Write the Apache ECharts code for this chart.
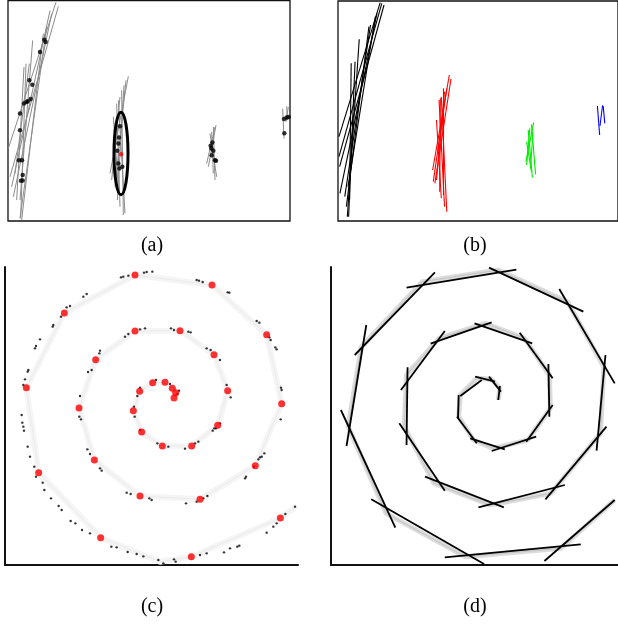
<!DOCTYPE html>
<html><head><meta charset="utf-8">
<script src="https://cdn.jsdelivr.net/npm/echarts@6/dist/echarts.min.js"></script>
<style>html,body{margin:0;padding:0;background:#fff}#c{width:618px;height:628px}</style>
</head><body><div id="c"></div>
<script>
// ---------- Panel (a): gray line fits + black samples (panel units) ----------
const aLeftSegs = [[168,5,25,445],[175,18,30,530],[155,40,40,590],[150,30,35,560],[140,80,60,655],
  [130,100,65,660],[98,120,60,600],[78,190,62,655],[72,200,50,600],[88,190,45,520]];
const aMidSegs = [[385,228,330,520],[378,240,345,560],[365,270,370,645],[355,300,375,640],
  [350,310,360,620],[340,350,355,560],[372,255,352,600],[360,290,335,540]];
const aSmallSegs = [[648,375,625,500],[640,380,645,540],[630,400,650,530],[620,490,645,380],[635,395,640,520]];
const aEdgeSegs = [[848,325,852,415],[865,320,858,365],[860,318,862,360]];
const aDots = [[133,118],[137,125],[120,155],[88,240],[97,253],[72,310],[80,305],[92,296],[83,303],
  [60,340],[60,390],[57,480],[66,480],[68,525],[63,542],[68,541],
  [360,378],[357,412],[355,430],[352,452],[355,490],[358,505],[367,500],
  [637,427],[632,437],[634,445],[640,452],[635,465],[645,480],[648,482],
  [852,356],[860,352],[866,350],[853,399]];
const aRedDot = [[363,462]];
const aEllipse = [[363,460,21,124]]; // centre x, centre y, half-width, half-height

// ---------- Panel (b): coloured clusters ----------
const bBlackSegs = [[155,8,27,410],[167,15,29,500],[160,10,27,470],[145,40,30,580],[125,75,45,590],
  [120,80,50,620],[90,118,53,650],[77,185,57,650],[65,190,60,600],[140,50,55,560]];
const bRedSegs = [[370,225,318,510],[375,237,325,550],[362,265,320,545],[350,265,350,585],[345,290,362,635],
  [338,300,355,620],[330,360,345,595],[355,275,330,540],[342,295,340,575]];
const bGreenSegs = [[632,367,608,485],[625,373,638,523],[615,390,628,533],[620,385,610,495],
  [610,425,625,515],[630,395,622,505]];
const bBlueSegs = [[830,318,837,405],[846,316,838,378],[848,318,853,370]];

// ---------- Panel (c): spiral samples ----------
const cRed = [[522,414],[527,398],[517,385],[495,367],[458,368],[419,394],[400,452],[425,516],[487,558],
  [575,558],[653,496],[683,392],[642,284],[540,212],[405,213],[287,299],[237,444],[283,600],[420,708],
  [600,718],[766,617],[845,431],[800,224],[636,75],[405,45],[193,159],[79,383],[116,638],[302,833],
  [574,890],[841,774]];
const cTrace = [[522,414],[527,398],[517,385],[495,367],[458,368],[419,394],[400,452],[425,516],[487,558],
  [575,558],[653,496],[683,392],[642,284],[540,212],[405,213],[287,299],[237,444],[283,600],[420,708],
  [600,718],[766,617],[845,431],[800,224],[636,75],[405,45],[193,159],[79,383],[116,638],[302,833],
  [480,905],[574,890],[841,774],[890,738]];
const cBlack = [[363,52],[370,50],[385,47],[432,38],[440,36],[457,35],[590,60],[597,62],[608,66],[683,97],
  [688,98],[770,183],[778,188],[808,232],[812,240],[826,262],[830,268],[843,383],[845,390],[842,478],
  [793,580],[785,590],[775,598],[738,650],[735,655],[260,102],[250,110],[210,138],[200,142],[183,170],
  [160,195],[158,200],[120,238],[108,258],[105,265],[85,330],[83,335],[75,358],[70,375],[65,465],
  [67,488],[70,500],[72,512],[83,560],[90,590],[103,620],[108,650],[128,668],[133,690],[153,715],
  [176,738],[185,750],[212,783],[226,790],[246,810],[270,820],[334,860],[350,862],[383,876],[410,882],
  [430,889],[475,900],[490,910],[522,898],[527,905],[600,885],[620,880],[672,877],[690,865],[712,860],
  [718,857],[800,818],[820,800],[830,790],[856,762],[885,740],[375,230],[385,222],[420,208],[435,205],
  [513,205],[522,210],[565,215],[572,217],[620,265],[632,270],[660,300],[680,375],[692,412],[660,490],
  [648,505],[300,272],[298,280],[275,330],[264,336],[240,408],[238,470],[243,478],[262,568],[270,582],
  [300,625],[305,632],[380,698],[392,702],[448,715],[455,720],[558,730],[590,725],[610,715],[622,708],
  [762,620],[780,592],[420,383],[412,408],[402,440],[404,470],[420,510],[472,550],[505,560],[555,566],
  [585,550],[595,545],[638,512],[643,505],[468,360],[510,372],[537,392],[532,402]];

// ---------- Panel (d): piecewise-linear fit of the spiral ----------
const dSegs = [[540,420,545,378],[548,395,512,350],[530,365,470,350],[490,360,425,408],[420,405,418,475],
  [415,470,475,550],[455,535,560,568],[520,573,655,530],[625,545,705,435],[692,312,695,470],
  [605,218,705,355],[468,190,643,250],[335,251,520,187],[378,213,245,390],[265,322,262,555],
  [240,490,378,692],[318,650,557,742],[480,742,742,675],[683,718,868,500],[838,572,865,285],
  [893,370,725,87],[798,155,512,23],[595,29,262,83],[348,37,105,285],[140,195,80,558],
  [63,450,228,803],[155,718,497,912],[378,892,790,853],[680,903,893,720]];
const dTrace = [[540,420],[545,385],[520,358],[475,355],[425,405],[420,470],[465,540],[525,565],[630,540],
  [698,445],[695,345],[620,235],[500,190],[360,235],[262,345],[255,500],[345,670],[515,735],[700,700],
  [850,520],[860,320],[750,125],[540,30],[310,65],[125,260],[85,500],[200,760],[440,890],[730,865],[893,720]];

const chart = echarts.init(document.getElementById('c'), null, {renderer:'canvas'});

function segData(segs){ return segs.map(s => ({coords:[[s[0],s[1]],[s[2],s[3]]]})); }
function segSeries(i, segs, color, width){
  return {type:'lines', coordinateSystem:'cartesian2d', xAxisIndex:i, yAxisIndex:i, polyline:false,
    data:segData(segs), lineStyle:{color:color, width:width, opacity:1, curveness:0}, silent:true, z:2};
}
function xAx(i, min, max, showLine){
  return {type:'value', gridIndex:i, min:min, max:max, axisLine:{show:showLine, onZero:false, lineStyle:{color:'#111', width:2}},
    axisTick:{show:false}, axisLabel:{show:false}, splitLine:{show:false}};
}
function yAx(i, min, max, showLine){
  return {type:'value', gridIndex:i, min:min, max:max, inverse:true, axisLine:{show:showLine, onZero:false, lineStyle:{color:'#111', width:2}},
    axisTick:{show:false}, axisLabel:{show:false}, splitLine:{show:false}};
}
const lbl = (t, x, y) => ({type:'text', x:x, y:y, style:{text:t, fontFamily:'Liberation Serif', fontSize:20, fill:'#000', align:'center', verticalAlign:'middle'}});

chart.setOption({
  animation:false,
  backgroundColor:'#fff',
  grid:[
    {left:8, top:0.5, width:282, height:220.5, show:true, borderColor:'#111', borderWidth:1.3, backgroundColor:'transparent'},
    {left:338, top:1, width:290, height:220, show:true, borderColor:'#111', borderWidth:1.3, backgroundColor:'transparent'},
    {left:5, top:267, width:293, height:298},
    {left:331, top:267, width:290, height:298}
  ],
  xAxis:[xAx(0,24,870,false), xAx(1,24,894,false), xAx(2,15,894,true), xAx(3,33,903,true)],
  yAxis:[yAx(0,0,663,false), yAx(1,3,663,false), yAx(2,21,915,true), yAx(3,21,915,true)],
  graphic:[lbl('(a)',152,246), lbl('(b)',475,246), lbl('(c)',152,607), lbl('(d)',475,607)],
  series:[
    segSeries(0, aLeftSegs.concat(aMidSegs, aSmallSegs, aEdgeSegs), '#8c8c8c', 1),
    {type:'scatter', xAxisIndex:0, yAxisIndex:0, data:aDots, symbolSize:4.5, itemStyle:{color:'#000'}, silent:true, z:3},
    {type:'scatter', xAxisIndex:0, yAxisIndex:0, data:aRedDot, symbolSize:4.5, itemStyle:{color:'#ff0000'}, silent:true, z:4},
    {type:'custom', xAxisIndex:0, yAxisIndex:0, data:aEllipse, silent:true, z:5,
      renderItem:function(params, api){
        const c = api.coord([api.value(0), api.value(1)]);
        const s = api.size([api.value(2), api.value(3)]);
        return {type:'ellipse', shape:{cx:c[0], cy:c[1], rx:s[0], ry:s[1]}, style:{fill:'none', stroke:'#000', lineWidth:3}};
      }},
    segSeries(1, bBlackSegs, '#000', 1.1),
    segSeries(1, bRedSegs, '#ff0000', 1.1),
    segSeries(1, bGreenSegs, '#00ee00', 1.1),
    segSeries(1, bBlueSegs, '#0000ff', 1.1),
    {type:'line', xAxisIndex:2, yAxisIndex:2, data:cTrace, showSymbol:false, smooth:false, silent:true,
      lineStyle:{color:'#f5f5f5', width:6}, z:1},
    {type:'line', xAxisIndex:2, yAxisIndex:2, data:cTrace, showSymbol:false, smooth:false, silent:true,
      lineStyle:{color:'#ebebeb', width:1}, z:1},
    {type:'scatter', xAxisIndex:2, yAxisIndex:2, data:cBlack, symbolSize:2.4, itemStyle:{color:'#000'}, silent:true, z:3},
    {type:'scatter', xAxisIndex:2, yAxisIndex:2, data:cRed, symbolSize:7, itemStyle:{color:'#ff0000'}, silent:true, z:4},
    {type:'line', xAxisIndex:3, yAxisIndex:3, data:dTrace, showSymbol:false, smooth:false, silent:true,
      lineStyle:{color:'#dcdcdc', width:5}, z:1},
    {type:'line', xAxisIndex:3, yAxisIndex:3, data:dTrace, showSymbol:false, smooth:false, silent:true,
      lineStyle:{color:'#c4c4c4', width:1}, z:1},
    segSeries(3, dSegs, '#000', 1.8)
  ]
});
</script></body></html>
